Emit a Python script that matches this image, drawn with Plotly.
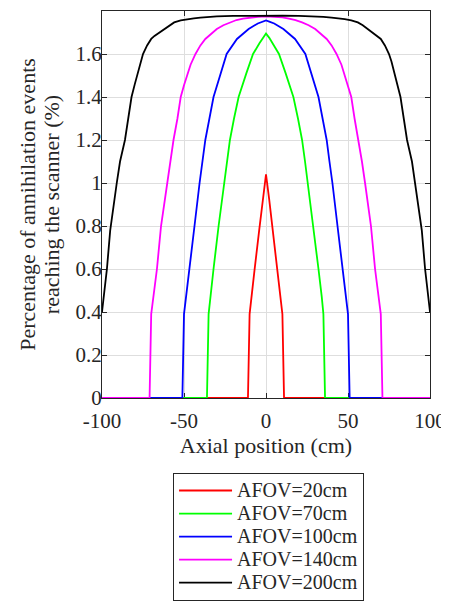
import plotly.graph_objects as go

# Half-profiles (distance from centre in cm) – curves are symmetric about 0
labels = ["AFOV=20cm", "AFOV=70cm", "AFOV=100cm", "AFOV=140cm", "AFOV=200cm"]
colors = ["#ff0000", "#00ff00", "#0000ff", "#ff00ff", "#000000"]

d_20 = [0, 2, 4, 7, 9, 10, 11, 100]
v_20 = [1.04, 0.92, 0.79, 0.595, 0.47, 0.39, 0.0, 0.0]

d_70 = [0, 2, 4, 7.9, 12, 16.7, 19.5, 22, 23.8, 25.5, 28.9, 32, 34, 35, 36, 100]
v_70 = [1.695, 1.675, 1.65, 1.60, 1.51, 1.40, 1.30, 1.20, 1.10, 1.00, 0.80, 0.60, 0.47, 0.39, 0.0, 0.0]

d_100 = [0, 2, 5, 10.6, 17.7, 24, 28, 32, 34.5, 37, 38.7, 40.5, 43.6, 46.6, 48.5, 50, 51, 100]
v_100 = [1.756, 1.751, 1.742, 1.716, 1.67, 1.60, 1.50, 1.40, 1.30, 1.20, 1.10, 1.00, 0.80, 0.60, 0.48, 0.39, 0.0, 0.0]

d_140 = [0, 5, 10, 14, 18, 22, 26, 30, 34, 37, 40, 43, 46, 48, 50, 52, 54, 56.4, 58.5, 60.4, 62.2, 64, 66.5, 68.5, 70, 71, 100]
v_140 = [1.775, 1.773, 1.770, 1.765, 1.758, 1.747, 1.734, 1.716, 1.690, 1.67, 1.64, 1.60, 1.55, 1.50, 1.455, 1.40, 1.30, 1.20, 1.10, 1.00, 0.90, 0.80, 0.60, 0.48, 0.39, 0.0, 0.0]

d_200 = [0, 10, 20, 30, 35, 40, 44, 48, 52, 56, 59, 62, 64, 66, 68, 70, 72.5, 75, 76.5, 78, 80, 82, 84, 86, 89, 91, 93, 95, 97, 99, 100]
v_200 = [1.778, 1.778, 1.777, 1.775, 1.773, 1.769, 1.766, 1.762, 1.756, 1.747, 1.734, 1.716, 1.706, 1.695, 1.684, 1.67, 1.64, 1.60, 1.565, 1.52, 1.46, 1.40, 1.30, 1.20, 1.10, 1.00, 0.90, 0.78, 0.60, 0.47, 0.40]

halves = [(d_20, v_20), (d_70, v_70), (d_100, v_100), (d_140, v_140), (d_200, v_200)]

x_tickvals = [-100, -50, 0, 50, 100]
x_ticktext = ["-100", "-50", "0", "50", "100"]
y_tickvals = [0, 0.2, 0.4, 0.6, 0.8, 1.0, 1.2, 1.4, 1.6]
y_ticktext = ["0", "0.2", "0.4", "0.6", "0.8", "1", "1.2", "1.4", "1.6"]

FONT = "Liberation Serif, Times New Roman, serif"
AX = "#262626"


def big(s, px):
    return '<span style="font-size:%dpx">%s</span>' % (px, s)


fig = go.Figure()
for (d, v), name, c in zip(halves, labels, colors):
    xs = [-t for t in reversed(d)] + d[1:]
    ys = list(reversed(v)) + v[1:]
    fig.add_trace(go.Scatter(x=xs, y=ys, mode="lines", name=big(name, 20),
                             line=dict(color=c, width=1.8)))

axis_common = dict(showline=True, linecolor=AX, linewidth=1, mirror="ticks",
                   ticks="inside", ticklen=5, tickcolor=AX,
                   showgrid=True, gridcolor="#dedede", gridwidth=1,
                   zeroline=False, layer="below traces", automargin=False,
                   tickfont=dict(family=FONT, size=21, color=AX))

ytitle = big("Percentage of annihilation events", 22) + "<br>" + big("reaching the scanner (%)", 22)

fig.update_layout(
    width=441, height=640,
    margin=dict(l=94, r=19, t=3, b=250),
    paper_bgcolor="white", plot_bgcolor="white",
    font=dict(family=FONT, color=AX),
    xaxis=dict(range=[-100, 100], tickmode="array", tickvals=x_tickvals, ticktext=x_ticktext,
               ticklabelstandoff=4,
               title=dict(text="Axial position (cm)", font=dict(family=FONT, size=22, color=AX), standoff=0),
               **axis_common),
    yaxis=dict(range=[0, 1.8], tickmode="array", tickvals=y_tickvals, ticktext=y_ticktext,
               ticklabelstandoff=-5,
               title=dict(text=ytitle, font=dict(family=FONT, size=18.5, color=AX), standoff=11),
               **axis_common),
    legend=dict(x=0.2166, y=-0.1938, xanchor="left", yanchor="top",
                bordercolor=AX, borderwidth=1, bgcolor="white",
                font=dict(family=FONT, size=15.4, color=AX),
                itemwidth=53, tracegroupgap=0),
    showlegend=True,
)

fig.write_html("out.html")
